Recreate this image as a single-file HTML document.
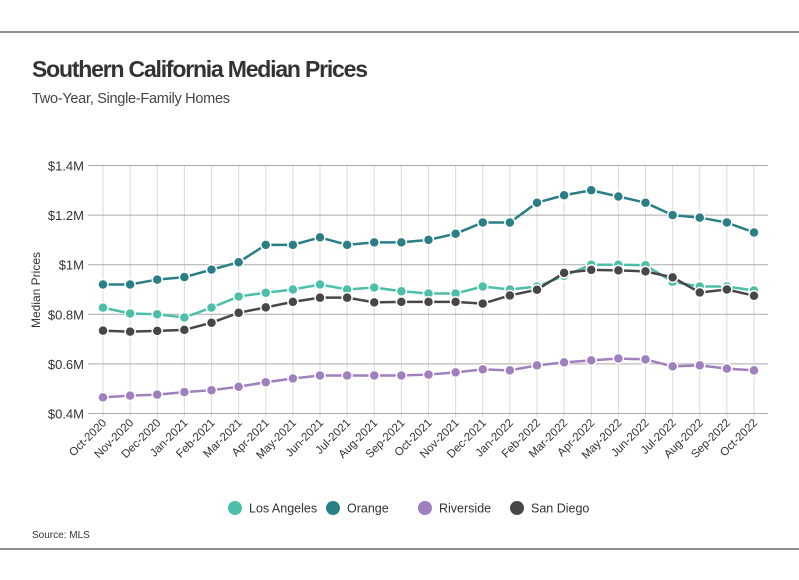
<!DOCTYPE html>
<html><head><meta charset="utf-8"><style>
body{margin:0;background:#fff;font-family:"Liberation Sans",sans-serif;}
svg text{font-family:"Liberation Sans",sans-serif;}
</style></head><body>
<svg id="c" width="799" height="575">
<line x1="0" y1="32" x2="799" y2="32" stroke="#222" stroke-width="1"/>
<line x1="0" y1="549" x2="799" y2="549" stroke="#222" stroke-width="1"/>
<text x="32" y="77" font-size="23" font-weight="bold" fill="#333" textLength="336">Southern California Median Prices</text>
<text x="32" y="103" font-size="14.5" fill="#444" textLength="198">Two-Year, Single-Family Homes</text>
<text transform="translate(40,290) rotate(-90)" text-anchor="middle" font-size="12" fill="#333">Median Prices</text>
<text x="32" y="538" font-size="10" fill="#333">Source:  MLS</text>
<g id="grid"></g><g id="series"></g><g id="legend"></g>
</svg>
<script>
const months=["Oct-2020","Nov-2020","Dec-2020","Jan-2021","Feb-2021","Mar-2021","Apr-2021","May-2021","Jun-2021","Jul-2021","Aug-2021","Sep-2021","Oct-2021","Nov-2021","Dec-2021","Jan-2022","Feb-2022","Mar-2022","Apr-2022","May-2022","Jun-2022","Jul-2022","Aug-2022","Sep-2022","Oct-2022"];
const yTicks=[0.4,0.6,0.8,1.0,1.2,1.4];
const yTickLabels=["$0.4M","$0.6M","$0.8M","$1M","$1.2M","$1.4M"];
const seriesNames=["Los Angeles","Orange","Riverside","San Diego"];
const laValues=[0.827,0.803,0.800,0.787,0.827,0.872,0.887,0.900,0.920,0.900,0.908,0.893,0.884,0.884,0.912,0.900,0.912,0.955,1.000,1.000,0.998,0.931,0.912,0.912,0.896];
const orangeValues=[0.92,0.92,0.94,0.95,0.98,1.01,1.08,1.08,1.11,1.08,1.09,1.09,1.10,1.125,1.17,1.17,1.25,1.28,1.30,1.275,1.25,1.20,1.19,1.17,1.13];
const riversideValues=[0.465,0.472,0.476,0.486,0.494,0.508,0.526,0.541,0.553,0.553,0.553,0.553,0.557,0.566,0.578,0.574,0.594,0.606,0.614,0.622,0.618,0.590,0.594,0.581,0.574];
const sdValues=[0.734,0.730,0.733,0.737,0.766,0.806,0.828,0.850,0.867,0.867,0.848,0.850,0.850,0.850,0.843,0.876,0.899,0.967,0.979,0.977,0.973,0.949,0.888,0.900,0.875];
const colors=["#4dbfa9","#2a7f87","#a07fbe","#474747"];
const NS="http://www.w3.org/2000/svg";
const x0=103,x1=754,yTop=165.5,yBot=413.5;
const xs=i=>x0+i*(x1-x0)/(months.length-1);
const ys=v=>yBot-(v-0.4)/(1.4-0.4)*(yBot-yTop);
function mk(tag,attrs,parent){const e=document.createElementNS(NS,tag);for(const k in attrs)e.setAttribute(k,attrs[k]);parent.appendChild(e);return e;}
const grid=document.getElementById('grid');
months.forEach((m,i)=>{
 const l=mk('line',{x1:xs(i),x2:xs(i),y1:yTop,y2:yBot+4,stroke:'#dadada','stroke-width':1},grid);
 
 
 const t=mk('text',{transform:`translate(${xs(i)+4},${yBot+10}) rotate(-45)`,'text-anchor':'end','font-size':11.5,fill:'#333'},grid);
 t.textContent=m;
 
 
});
yTicks.forEach((v,i)=>{
 const l=mk('line',{x1:88,x2:768,y1:ys(v),y2:ys(v),stroke:'#aaa','stroke-width':1},grid);
 
 
 const t=mk('text',{x:84,y:ys(v)+5,'text-anchor':'end','font-size':13,fill:'#333'},grid);
 t.textContent=yTickLabels[i];
 
 
});
const all=[laValues,orangeValues,riversideValues,sdValues];
const sg=document.getElementById('series');
all.forEach((vals,s)=>{
 const g=mk('g',{},sg);
 
 
 const p=mk('polyline',{points:vals.map((v,i)=>xs(i)+','+ys(v)).join(' '),fill:'none',stroke:colors[s],'stroke-width':2.5},g);
 
 
 vals.forEach((v,i)=>{
  const c=mk('circle',{cx:xs(i),cy:ys(v),r:5,fill:colors[s],stroke:'#fff','stroke-width':1.5},g);
  
  
 });
});
const lg=document.getElementById('legend');
const lx=[235,333,425,517];
seriesNames.forEach((n,s)=>{
 const g=mk('g',{},lg);
 
 
 mk('circle',{cx:lx[s],cy:508,r:7,fill:colors[s]},g);
 const t=mk('text',{x:lx[s]+14,y:512.5,'font-size':12.5,fill:'#333'},g);
 t.textContent=n;
});
</script>
</body></html>
